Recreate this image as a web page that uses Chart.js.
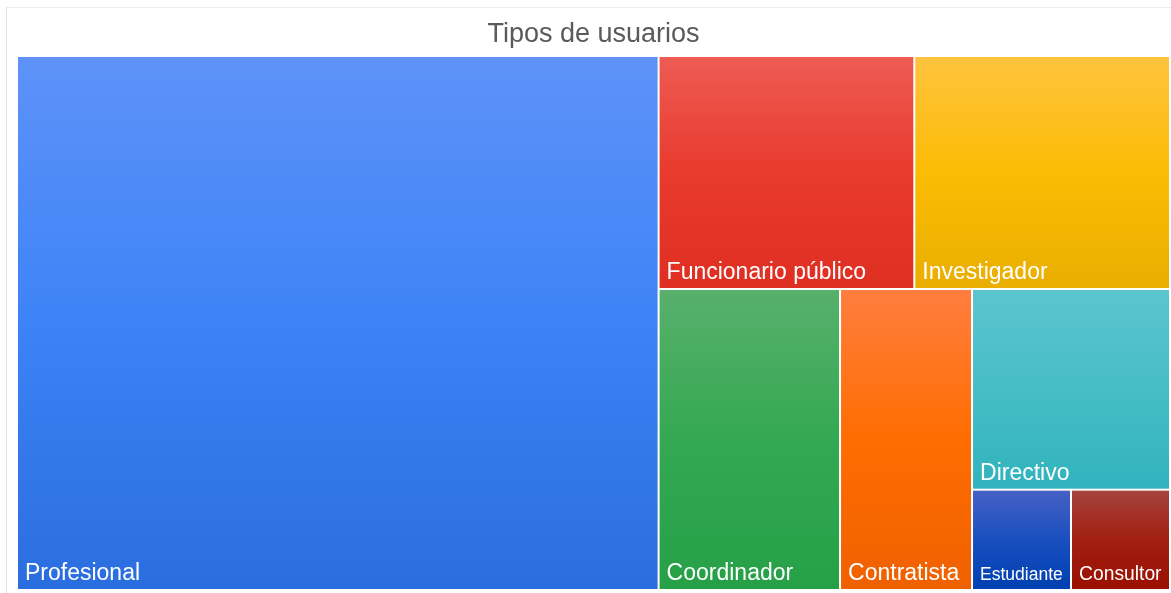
<!DOCTYPE html>
<html>
<head>
<meta charset="utf-8">
<script src="https://cdn.jsdelivr.net/npm/chart.js@4.4.1/dist/chart.umd.min.js"></script>
<style>
body { margin: 0; background: #fff; }
#frame { position: absolute; left: 6px; top: 7px; width: 1200px; height: 600px; border-left: 1px solid #e2e2e2; border-top: 1px solid #ececec; }
#wrap { position: absolute; left: 0; top: 0; width: 1171px; height: 593px; }
</style>
</head>
<body>
<div id="frame"></div>
<div id="wrap"><canvas id="myChart"></canvas></div>
<script>
// user types, counts
var labels = ['Profesional', 'Funcionario público', 'Investigador', 'Coordinador', 'Contratista', 'Directivo', 'Estudiante', 'Consultor'];
var values = [69, 12, 12, 11, 8, 8, 2, 2];

// vertical gradient for each tile: top / middle / bottom
var topColors = ['#5e92f8', '#ee5b53', '#ffc33e', '#58b06b', '#ff7d3e', '#5cc5cf', '#4660c4', '#a6433f'];
var midColors = ['#3d83f7', '#e93a2e', '#fbbc04', '#34a853', '#ff6d01', '#46bdc6', '#1a4fc0', '#a21f12'];
var bottomColors = ['#2a6ddf', '#df2e22', '#e9ae00', '#26a047', '#ef6000', '#31b3bd', '#0040b0', '#9a1000'];

// balanced binary split, cut across the longer side
function splitTiles(items, x0, y0, x1, y1, pxW, pxH, out) {
    if (items.length == 1) {
        out.push({ i: items[0].i, x0: x0, y0: y0, x1: x1, y1: y1 });
        return;
    }
    var total = 0;
    items.forEach(function (it) { total += it.v; });
    var acc = 0, best = 1, bestDiff = Infinity, bestAcc = 0;
    for (var k = 1; k < items.length; k++) {
        acc += items[k - 1].v;
        var d = Math.abs(2 * acc - total);
        if (d < bestDiff) { bestDiff = d; best = k; bestAcc = acc; }
    }
    var frac = bestAcc / total;
    var first = items.slice(0, best), rest = items.slice(best);
    if ((x1 - x0) * pxW >= (y1 - y0) * pxH) {
        var xm = x0 + (x1 - x0) * frac;
        splitTiles(first, x0, y0, xm, y1, pxW, pxH, out);
        splitTiles(rest, xm, y0, x1, y1, pxW, pxH, out);
    } else {
        var ym = y0 + (y1 - y0) * frac;
        splitTiles(first, x0, y0, x1, ym, pxW, pxH, out);
        splitTiles(rest, x0, ym, x1, y1, pxW, pxH, out);
    }
}

var treemapPlugin = {
    id: 'treemap',
    afterDatasetsDraw: function (chart) {
        var ctx = chart.ctx, area = chart.chartArea;
        var xs = chart.scales.x, ys = chart.scales.y;
        var items = values.map(function (v, i) { return { v: v, i: i }; });
        var tiles = [];
        splitTiles(items, 0, 0, 1, 1, area.width, area.height, tiles);

        ctx.save();
        tiles.forEach(function (t) {
            var left = xs.getPixelForValue(t.x0) + 1;
            var right = xs.getPixelForValue(t.x1) - 1;
            var top = ys.getPixelForValue(t.y0) + 1;
            var bottom = ys.getPixelForValue(t.y1) - 1;
            var g = ctx.createLinearGradient(0, top, 0, bottom);
            g.addColorStop(0, topColors[t.i]);
            g.addColorStop(0.5, midColors[t.i]);
            g.addColorStop(1, bottomColors[t.i]);
            ctx.fillStyle = g;
            ctx.fillRect(left, top, right - left, bottom - top);

            // label bottom-left, shrunk when the tile is narrow
            var size = 23;
            ctx.font = size + 'px "Liberation Sans", Arial, sans-serif';
            var w = ctx.measureText(labels[t.i]).width;
            var room = right - left - 14;
            if (w > room) {
                size = Math.floor(size * room / w * 10) / 10;
                ctx.font = size + 'px "Liberation Sans", Arial, sans-serif';
            }
            ctx.fillStyle = '#ffffff';
            ctx.textBaseline = 'alphabetic';
            ctx.textAlign = 'left';
            ctx.fillText(labels[t.i], left + 7, bottom - 9);
        });
        ctx.restore();
    }
};

var ctx = document.getElementById('myChart');

var myChart = new Chart(ctx, {
    type: 'scatter',
    data: {
        datasets: [{ label: 'usuarios', data: [] }]
    },
    options: {
        responsive: true,
        maintainAspectRatio: false,
        animation: false,
        layout: { padding: { left: 17, right: 1, top: 18, bottom: 3 } },
        scales: {
            x: { type: 'linear', min: 0, max: 1, display: false },
            y: { type: 'linear', min: 0, max: 1, reverse: true, display: false }
        },
        plugins: {
            legend: { display: false },
            tooltip: { enabled: false },
            title: {
                display: true,
                text: 'Tipos de usuarios',
                color: '#5a5a5a',
                font: { family: '"Liberation Sans", Arial, sans-serif', size: 27, weight: 'normal' },
                padding: { top: 0, bottom: 5.6 }
            }
        }
    },
    plugins: [treemapPlugin]
});
</script>
</body>
</html>
